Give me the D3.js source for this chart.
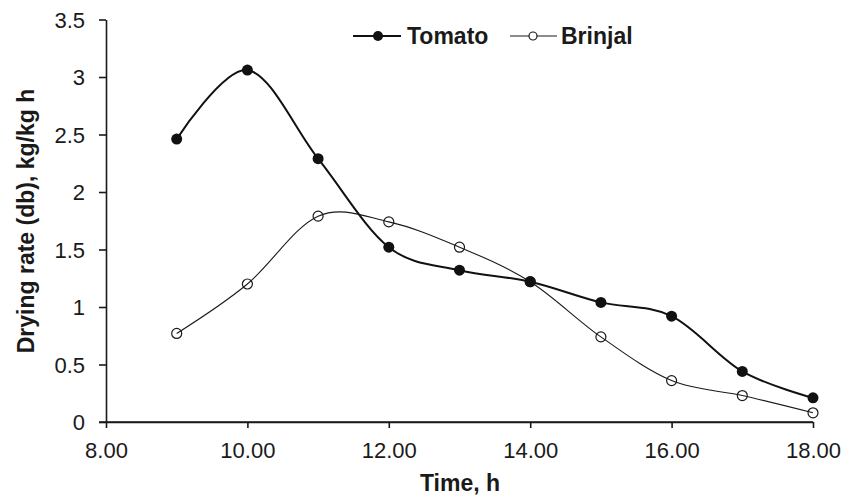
<!DOCTYPE html>
<html>
<head>
<meta charset="utf-8">
<script src="https://cdn.jsdelivr.net/npm/d3@7"></script>
<style>
  body { margin: 0; background: #fff; }
  text { font-family: "Liberation Sans", Arial, sans-serif; fill: #1a1a1a; }
</style>
</head>
<body>
<svg id="viz"></svg>
<script>
var width = 858;
var height = 497;

// data
var hours = [9, 10, 11, 12, 13, 14, 15, 16, 17, 18];
var tomato = [2.46, 3.06, 2.29, 1.52, 1.32, 1.22, 1.04, 0.92, 0.44, 0.21];
var brinjal = [0.77, 1.20, 1.79, 1.74, 1.52, 1.22, 0.74, 0.36, 0.23, 0.08];
var xTicks = [8, 10, 12, 14, 16, 18];
var yTicks = [0, 0.5, 1, 1.5, 2, 2.5, 3, 3.5];

var plotLeft = 106, plotRight = 813;
var plotTop = 19.5, plotBottom = 422;

var svg = d3.select("#viz")
  .attr("width", width)
  .attr("height", height);

var x = d3.scaleLinear().domain([8, 18]).range([plotLeft, plotRight]);
var y = d3.scaleLinear().domain([0, 3.5]).range([plotBottom, plotTop]);

// Axes
var xAxis = d3.axisBottom(x)
  .tickValues(xTicks)
  .tickSize(6)
  .tickSizeOuter(0)
  .tickFormat(d3.format(".2f"));

var yAxis = d3.axisLeft(y)
  .tickValues(yTicks)
  .tickSize(7)
  .tickSizeOuter(0)
  .tickFormat(function(d) { return d; });

var gx = svg.append("g")
  .attr("transform", "translate(0," + plotBottom + ")")
  .call(xAxis);
gx.selectAll("text")
  .attr("dy", null)
  .attr("y", 36)
  .style("font-size", "22px");

var gy = svg.append("g")
  .attr("transform", "translate(" + plotLeft + ",0)")
  .call(yAxis);
gy.selectAll("text")
  .attr("x", -21)
  .attr("dy", "0.36em")
  .style("font-size", "22px");

svg.selectAll(".domain, .tick line")
  .attr("stroke", "#1a1a1a")
  .attr("stroke-width", 1.6);

// extend x axis line to meet the y ticks
svg.append("line")
  .attr("x1", plotLeft - 7).attr("x2", plotRight)
  .attr("y1", plotBottom).attr("y2", plotBottom)
  .attr("stroke", "#1a1a1a").attr("stroke-width", 1.6);

// Axis titles
svg.append("text")
  .attr("x", 460)
  .attr("y", 491)
  .attr("text-anchor", "middle")
  .style("font-size", "23px")
  .style("font-weight", "bold")
  .text("Time, h");

svg.append("text")
  .attr("transform", "translate(34,221) rotate(-90)")
  .attr("text-anchor", "middle")
  .style("font-size", "23px")
  .style("font-weight", "bold")
  .text("Drying rate (db), kg/kg h");

// Lines
var line = d3.line()
  .x(function(d) { return x(d[0]); })
  .y(function(d) { return y(d[1]); })
  .curve(d3.curveCardinal.tension(0));

var tomatoData = hours.map(function(h, i) { return [h, tomato[i]]; });
var brinjalData = hours.map(function(h, i) { return [h, brinjal[i]]; });

svg.append("path")
  .datum(brinjalData)
  .attr("d", line)
  .attr("fill", "none")
  .attr("stroke", "#1a1a1a")
  .attr("stroke-width", 1.1);

svg.append("path")
  .datum(tomatoData)
  .attr("d", line)
  .attr("fill", "none")
  .attr("stroke", "#111")
  .attr("stroke-width", 2);

svg.selectAll(".bDot")
  .data(brinjalData).enter()
  .append("circle")
  .attr("class", "bDot")
  .attr("cx", function(d) { return x(d[0]); })
  .attr("cy", function(d) { return y(d[1]); })
  .attr("r", 5)
  .attr("fill", "none")
  .attr("stroke", "#1a1a1a")
  .attr("stroke-width", 1.2);

svg.selectAll(".tDot")
  .data(tomatoData).enter()
  .append("circle")
  .attr("class", "tDot")
  .attr("cx", function(d) { return x(d[0]); })
  .attr("cy", function(d) { return y(d[1]); })
  .attr("r", 5.5)
  .attr("fill", "#111");

// Legend
var legend = svg.append("g");
legend.append("line")
  .attr("x1", 353).attr("x2", 401).attr("y1", 36).attr("y2", 36)
  .attr("stroke", "#111").attr("stroke-width", 2);
legend.append("circle")
  .attr("cx", 378).attr("cy", 36).attr("r", 5).attr("fill", "#111");
legend.append("text")
  .attr("x", 407).attr("y", 44)
  .style("font-size", "23px").style("font-weight", "bold")
  .text("Tomato");

legend.append("line")
  .attr("x1", 510).attr("x2", 557).attr("y1", 36).attr("y2", 36)
  .attr("stroke", "#1a1a1a").attr("stroke-width", 1.1);
legend.append("circle")
  .attr("cx", 533).attr("cy", 36).attr("r", 4)
  .attr("fill", "#fff").attr("stroke", "#1a1a1a").attr("stroke-width", 1.2);
legend.append("text")
  .attr("x", 561).attr("y", 44)
  .style("font-size", "23px").style("font-weight", "bold")
  .text("Brinjal");
</script>
</body>
</html>
